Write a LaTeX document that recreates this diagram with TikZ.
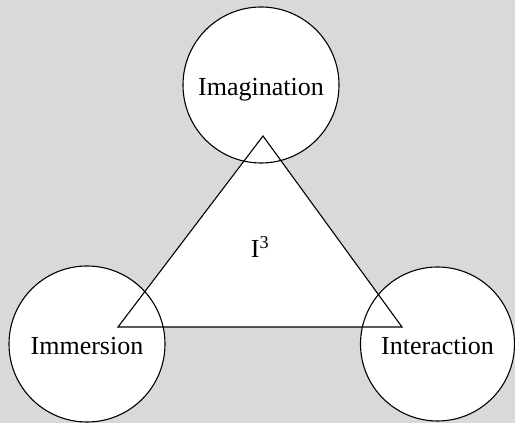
\documentclass[tikz,border=0pt]{standalone}
\usepackage{fontspec}
\setmainfont{Liberation Serif}
\begin{document}
\begin{tikzpicture}[x=1pt,y=1pt,
  ball/.style={circle,draw=black,fill=white,line width=1.1pt,minimum size=156pt,inner sep=0pt,text height=21pt,text depth=0pt,font=\fontsize{26}{30}\selectfont},
  tri/.style={draw=black,line width=1.1pt,line join=miter}]
\fill[fill={rgb,255:red,217;green,217;blue,217}] (0,0) rectangle (515,423);
\useasboundingbox (0,0) rectangle (515,423);
\coordinate (apex) at (263,287);
\coordinate (bl) at (118,96);
\coordinate (br) at (402,96);
\fill[white] (apex) -- (bl) -- (br) -- cycle;
\node[ball] (imag) at (261,338) {Imagination};
\node[ball] (imm) at (87,79) {Immersion};
\node[ball,minimum size=154pt] (inter) at (437.5,79) {Interaction};
\draw[tri] (apex) -- (bl) -- (br) -- cycle;
\node[font=\fontsize{26}{30}\selectfont] (i3) at (260,176) {I\textsuperscript{3}};
\end{tikzpicture}
\end{document}
